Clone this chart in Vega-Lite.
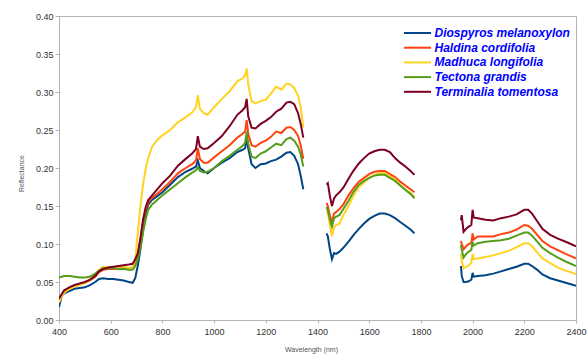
{
  "$schema": "https://vega.github.io/schema/vega-lite/v6.json",
  "width": 517,
  "height": 304,
  "autosize": {"type": "none"},
  "padding": {"left": 59, "top": 16, "right": 12, "bottom": 43},
  "background": "white",
  "config": {
    "font": "Liberation Sans",
    "view": {"stroke": "#b3b3b3", "strokeWidth": 1},
    "axis": {"grid": false, "domainColor": "#b3b3b3", "tickColor": "#b3b3b3", "labelColor": "#333333", "labelFont": "Liberation Sans", "labelFontSize": 9, "titleFont": "Liberation Sans", "titleFontSize": 7, "titleFontWeight": "normal", "titleColor": "#555555"}
  },
  "data": {"values": [
    {"wl":400,"seg":1,"Diospyros melanoxylon":0.017,"Haldina cordifolia":0.026,"Madhuca longifolia":0.023,"Tectona grandis":0.056,"Terminalia tomentosa":0.028},
    {"wl":410,"seg":1,"Diospyros melanoxylon":0.031,"Haldina cordifolia":0.033,"Madhuca longifolia":0.031,"Tectona grandis":0.057,"Terminalia tomentosa":0.034},
    {"wl":420,"seg":1,"Diospyros melanoxylon":0.035,"Haldina cordifolia":0.037,"Madhuca longifolia":0.036,"Tectona grandis":0.058,"Terminalia tomentosa":0.039},
    {"wl":440,"seg":1,"Diospyros melanoxylon":0.038,"Haldina cordifolia":0.042,"Madhuca longifolia":0.041,"Tectona grandis":0.058,"Terminalia tomentosa":0.043},
    {"wl":460,"seg":1,"Diospyros melanoxylon":0.041,"Haldina cordifolia":0.045,"Madhuca longifolia":0.044,"Tectona grandis":0.057,"Terminalia tomentosa":0.046},
    {"wl":480,"seg":1,"Diospyros melanoxylon":0.042,"Haldina cordifolia":0.047,"Madhuca longifolia":0.046,"Tectona grandis":0.056,"Terminalia tomentosa":0.048},
    {"wl":500,"seg":1,"Diospyros melanoxylon":0.043,"Haldina cordifolia":0.049,"Madhuca longifolia":0.049,"Tectona grandis":0.056,"Terminalia tomentosa":0.050},
    {"wl":520,"seg":1,"Diospyros melanoxylon":0.046,"Haldina cordifolia":0.052,"Madhuca longifolia":0.053,"Tectona grandis":0.057,"Terminalia tomentosa":0.053},
    {"wl":540,"seg":1,"Diospyros melanoxylon":0.050,"Haldina cordifolia":0.057,"Madhuca longifolia":0.059,"Tectona grandis":0.061,"Terminalia tomentosa":0.058},
    {"wl":555,"seg":1,"Diospyros melanoxylon":0.054,"Haldina cordifolia":0.063,"Madhuca longifolia":0.066,"Tectona grandis":0.065,"Terminalia tomentosa":0.064},
    {"wl":570,"seg":1,"Diospyros melanoxylon":0.055,"Haldina cordifolia":0.066,"Madhuca longifolia":0.070,"Tectona grandis":0.068,"Terminalia tomentosa":0.067},
    {"wl":590,"seg":1,"Diospyros melanoxylon":0.054,"Haldina cordifolia":0.067,"Madhuca longifolia":0.069,"Tectona grandis":0.068,"Terminalia tomentosa":0.069},
    {"wl":610,"seg":1,"Diospyros melanoxylon":0.054,"Haldina cordifolia":0.067,"Madhuca longifolia":0.069,"Tectona grandis":0.068,"Terminalia tomentosa":0.070},
    {"wl":630,"seg":1,"Diospyros melanoxylon":0.053,"Haldina cordifolia":0.068,"Madhuca longifolia":0.070,"Tectona grandis":0.067,"Terminalia tomentosa":0.071},
    {"wl":650,"seg":1,"Diospyros melanoxylon":0.052,"Haldina cordifolia":0.068,"Madhuca longifolia":0.070,"Tectona grandis":0.067,"Terminalia tomentosa":0.072},
    {"wl":670,"seg":1,"Diospyros melanoxylon":0.050,"Haldina cordifolia":0.068,"Madhuca longifolia":0.068,"Tectona grandis":0.066,"Terminalia tomentosa":0.073},
    {"wl":685,"seg":1,"Diospyros melanoxylon":0.049,"Haldina cordifolia":0.069,"Madhuca longifolia":0.068,"Tectona grandis":0.066,"Terminalia tomentosa":0.074},
    {"wl":695,"seg":1,"Diospyros melanoxylon":0.055,"Haldina cordifolia":0.075,"Madhuca longifolia":0.080,"Tectona grandis":0.071,"Terminalia tomentosa":0.080},
    {"wl":705,"seg":1,"Diospyros melanoxylon":0.072,"Haldina cordifolia":0.085,"Madhuca longifolia":0.115,"Tectona grandis":0.080,"Terminalia tomentosa":0.088},
    {"wl":715,"seg":1,"Diospyros melanoxylon":0.093,"Haldina cordifolia":0.105,"Madhuca longifolia":0.150,"Tectona grandis":0.095,"Terminalia tomentosa":0.108},
    {"wl":725,"seg":1,"Diospyros melanoxylon":0.118,"Haldina cordifolia":0.128,"Madhuca longifolia":0.178,"Tectona grandis":0.115,"Terminalia tomentosa":0.132},
    {"wl":735,"seg":1,"Diospyros melanoxylon":0.138,"Haldina cordifolia":0.145,"Madhuca longifolia":0.198,"Tectona grandis":0.132,"Terminalia tomentosa":0.148},
    {"wl":745,"seg":1,"Diospyros melanoxylon":0.152,"Haldina cordifolia":0.155,"Madhuca longifolia":0.213,"Tectona grandis":0.145,"Terminalia tomentosa":0.158},
    {"wl":760,"seg":1,"Diospyros melanoxylon":0.158,"Haldina cordifolia":0.161,"Madhuca longifolia":0.228,"Tectona grandis":0.152,"Terminalia tomentosa":0.164},
    {"wl":780,"seg":1,"Diospyros melanoxylon":0.163,"Haldina cordifolia":0.166,"Madhuca longifolia":0.237,"Tectona grandis":0.158,"Terminalia tomentosa":0.172},
    {"wl":800,"seg":1,"Diospyros melanoxylon":0.168,"Haldina cordifolia":0.172,"Madhuca longifolia":0.243,"Tectona grandis":0.164,"Terminalia tomentosa":0.180},
    {"wl":830,"seg":1,"Diospyros melanoxylon":0.178,"Haldina cordifolia":0.182,"Madhuca longifolia":0.250,"Tectona grandis":0.172,"Terminalia tomentosa":0.190},
    {"wl":860,"seg":1,"Diospyros melanoxylon":0.188,"Haldina cordifolia":0.193,"Madhuca longifolia":0.260,"Tectona grandis":0.180,"Terminalia tomentosa":0.203},
    {"wl":890,"seg":1,"Diospyros melanoxylon":0.195,"Haldina cordifolia":0.200,"Madhuca longifolia":0.267,"Tectona grandis":0.188,"Terminalia tomentosa":0.212},
    {"wl":915,"seg":1,"Diospyros melanoxylon":0.199,"Haldina cordifolia":0.205,"Madhuca longifolia":0.273,"Tectona grandis":0.194,"Terminalia tomentosa":0.219},
    {"wl":930,"seg":1,"Diospyros melanoxylon":0.202,"Haldina cordifolia":0.210,"Madhuca longifolia":0.280,"Tectona grandis":0.197,"Terminalia tomentosa":0.225},
    {"wl":937,"seg":1,"Diospyros melanoxylon":0.210,"Haldina cordifolia":0.226,"Madhuca longifolia":0.296,"Tectona grandis":0.201,"Terminalia tomentosa":0.242},
    {"wl":945,"seg":1,"Diospyros melanoxylon":0.200,"Haldina cordifolia":0.212,"Madhuca longifolia":0.278,"Tectona grandis":0.196,"Terminalia tomentosa":0.228},
    {"wl":960,"seg":1,"Diospyros melanoxylon":0.196,"Haldina cordifolia":0.207,"Madhuca longifolia":0.272,"Tectona grandis":0.194,"Terminalia tomentosa":0.225},
    {"wl":975,"seg":1,"Diospyros melanoxylon":0.193,"Haldina cordifolia":0.207,"Madhuca longifolia":0.270,"Tectona grandis":0.195,"Terminalia tomentosa":0.226},
    {"wl":1000,"seg":1,"Diospyros melanoxylon":0.200,"Haldina cordifolia":0.214,"Madhuca longifolia":0.280,"Tectona grandis":0.200,"Terminalia tomentosa":0.233},
    {"wl":1030,"seg":1,"Diospyros melanoxylon":0.207,"Haldina cordifolia":0.222,"Madhuca longifolia":0.291,"Tectona grandis":0.209,"Terminalia tomentosa":0.242},
    {"wl":1060,"seg":1,"Diospyros melanoxylon":0.213,"Haldina cordifolia":0.230,"Madhuca longifolia":0.301,"Tectona grandis":0.216,"Terminalia tomentosa":0.255},
    {"wl":1090,"seg":1,"Diospyros melanoxylon":0.221,"Haldina cordifolia":0.240,"Madhuca longifolia":0.314,"Tectona grandis":0.224,"Terminalia tomentosa":0.270},
    {"wl":1110,"seg":1,"Diospyros melanoxylon":0.224,"Haldina cordifolia":0.245,"Madhuca longifolia":0.318,"Tectona grandis":0.229,"Terminalia tomentosa":0.276},
    {"wl":1120,"seg":1,"Diospyros melanoxylon":0.226,"Haldina cordifolia":0.248,"Madhuca longifolia":0.322,"Tectona grandis":0.233,"Terminalia tomentosa":0.280},
    {"wl":1126,"seg":1,"Diospyros melanoxylon":0.240,"Haldina cordifolia":0.263,"Madhuca longifolia":0.331,"Tectona grandis":0.248,"Terminalia tomentosa":0.291},
    {"wl":1132,"seg":1,"Diospyros melanoxylon":0.226,"Haldina cordifolia":0.245,"Madhuca longifolia":0.310,"Tectona grandis":0.232,"Terminalia tomentosa":0.268},
    {"wl":1145,"seg":1,"Diospyros melanoxylon":0.205,"Haldina cordifolia":0.230,"Madhuca longifolia":0.288,"Tectona grandis":0.215,"Terminalia tomentosa":0.253},
    {"wl":1160,"seg":1,"Diospyros melanoxylon":0.200,"Haldina cordifolia":0.228,"Madhuca longifolia":0.285,"Tectona grandis":0.213,"Terminalia tomentosa":0.252},
    {"wl":1180,"seg":1,"Diospyros melanoxylon":0.205,"Haldina cordifolia":0.233,"Madhuca longifolia":0.288,"Tectona grandis":0.219,"Terminalia tomentosa":0.258},
    {"wl":1200,"seg":1,"Diospyros melanoxylon":0.206,"Haldina cordifolia":0.236,"Madhuca longifolia":0.290,"Tectona grandis":0.222,"Terminalia tomentosa":0.262},
    {"wl":1220,"seg":1,"Diospyros melanoxylon":0.209,"Haldina cordifolia":0.241,"Madhuca longifolia":0.298,"Tectona grandis":0.227,"Terminalia tomentosa":0.267},
    {"wl":1240,"seg":1,"Diospyros melanoxylon":0.211,"Haldina cordifolia":0.248,"Madhuca longifolia":0.307,"Tectona grandis":0.232,"Terminalia tomentosa":0.274},
    {"wl":1260,"seg":1,"Diospyros melanoxylon":0.215,"Haldina cordifolia":0.246,"Madhuca longifolia":0.303,"Tectona grandis":0.230,"Terminalia tomentosa":0.278},
    {"wl":1280,"seg":1,"Diospyros melanoxylon":0.220,"Haldina cordifolia":0.253,"Madhuca longifolia":0.311,"Tectona grandis":0.238,"Terminalia tomentosa":0.286},
    {"wl":1295,"seg":1,"Diospyros melanoxylon":0.221,"Haldina cordifolia":0.254,"Madhuca longifolia":0.310,"Tectona grandis":0.240,"Terminalia tomentosa":0.287},
    {"wl":1310,"seg":1,"Diospyros melanoxylon":0.216,"Haldina cordifolia":0.250,"Madhuca longifolia":0.305,"Tectona grandis":0.236,"Terminalia tomentosa":0.284},
    {"wl":1325,"seg":1,"Diospyros melanoxylon":0.205,"Haldina cordifolia":0.242,"Madhuca longifolia":0.295,"Tectona grandis":0.228,"Terminalia tomentosa":0.272},
    {"wl":1335,"seg":1,"Diospyros melanoxylon":0.190,"Haldina cordifolia":0.230,"Madhuca longifolia":0.280,"Tectona grandis":0.218,"Terminalia tomentosa":0.258},
    {"wl":1345,"seg":1,"Diospyros melanoxylon":0.172,"Haldina cordifolia":0.212,"Madhuca longifolia":0.253,"Tectona grandis":0.202,"Terminalia tomentosa":0.240},
    {"wl":1435,"seg":2,"Diospyros melanoxylon":0.114,"Haldina cordifolia":0.154,"Madhuca longifolia":0.147,"Tectona grandis":0.149,"Terminalia tomentosa":0.178},
    {"wl":1440,"seg":2,"Diospyros melanoxylon":0.110,"Haldina cordifolia":0.150,"Madhuca longifolia":0.140,"Tectona grandis":0.145,"Terminalia tomentosa":0.180},
    {"wl":1448,"seg":2,"Diospyros melanoxylon":0.093,"Haldina cordifolia":0.137,"Madhuca longifolia":0.125,"Tectona grandis":0.132,"Terminalia tomentosa":0.163},
    {"wl":1456,"seg":2,"Diospyros melanoxylon":0.080,"Haldina cordifolia":0.129,"Madhuca longifolia":0.110,"Tectona grandis":0.123,"Terminalia tomentosa":0.150},
    {"wl":1464,"seg":2,"Diospyros melanoxylon":0.088,"Haldina cordifolia":0.140,"Madhuca longifolia":0.122,"Tectona grandis":0.134,"Terminalia tomentosa":0.160},
    {"wl":1472,"seg":2,"Diospyros melanoxylon":0.087,"Haldina cordifolia":0.142,"Madhuca longifolia":0.125,"Tectona grandis":0.136,"Terminalia tomentosa":0.164},
    {"wl":1485,"seg":2,"Diospyros melanoxylon":0.090,"Haldina cordifolia":0.146,"Madhuca longifolia":0.127,"Tectona grandis":0.138,"Terminalia tomentosa":0.168},
    {"wl":1500,"seg":2,"Diospyros melanoxylon":0.095,"Haldina cordifolia":0.152,"Madhuca longifolia":0.138,"Tectona grandis":0.146,"Terminalia tomentosa":0.174},
    {"wl":1520,"seg":2,"Diospyros melanoxylon":0.103,"Haldina cordifolia":0.164,"Madhuca longifolia":0.150,"Tectona grandis":0.157,"Terminalia tomentosa":0.186},
    {"wl":1540,"seg":2,"Diospyros melanoxylon":0.112,"Haldina cordifolia":0.174,"Madhuca longifolia":0.164,"Tectona grandis":0.169,"Terminalia tomentosa":0.197},
    {"wl":1560,"seg":2,"Diospyros melanoxylon":0.120,"Haldina cordifolia":0.182,"Madhuca longifolia":0.175,"Tectona grandis":0.178,"Terminalia tomentosa":0.206},
    {"wl":1580,"seg":2,"Diospyros melanoxylon":0.127,"Haldina cordifolia":0.187,"Madhuca longifolia":0.181,"Tectona grandis":0.183,"Terminalia tomentosa":0.213},
    {"wl":1600,"seg":2,"Diospyros melanoxylon":0.133,"Haldina cordifolia":0.192,"Madhuca longifolia":0.187,"Tectona grandis":0.187,"Terminalia tomentosa":0.219},
    {"wl":1620,"seg":2,"Diospyros melanoxylon":0.137,"Haldina cordifolia":0.195,"Madhuca longifolia":0.191,"Tectona grandis":0.190,"Terminalia tomentosa":0.222},
    {"wl":1640,"seg":2,"Diospyros melanoxylon":0.140,"Haldina cordifolia":0.196,"Madhuca longifolia":0.193,"Tectona grandis":0.191,"Terminalia tomentosa":0.224},
    {"wl":1660,"seg":2,"Diospyros melanoxylon":0.140,"Haldina cordifolia":0.196,"Madhuca longifolia":0.193,"Tectona grandis":0.191,"Terminalia tomentosa":0.224},
    {"wl":1680,"seg":2,"Diospyros melanoxylon":0.138,"Haldina cordifolia":0.192,"Madhuca longifolia":0.189,"Tectona grandis":0.187,"Terminalia tomentosa":0.221},
    {"wl":1700,"seg":2,"Diospyros melanoxylon":0.134,"Haldina cordifolia":0.188,"Madhuca longifolia":0.185,"Tectona grandis":0.183,"Terminalia tomentosa":0.213},
    {"wl":1720,"seg":2,"Diospyros melanoxylon":0.129,"Haldina cordifolia":0.182,"Madhuca longifolia":0.178,"Tectona grandis":0.177,"Terminalia tomentosa":0.207},
    {"wl":1740,"seg":2,"Diospyros melanoxylon":0.124,"Haldina cordifolia":0.177,"Madhuca longifolia":0.172,"Tectona grandis":0.171,"Terminalia tomentosa":0.202},
    {"wl":1760,"seg":2,"Diospyros melanoxylon":0.119,"Haldina cordifolia":0.172,"Madhuca longifolia":0.167,"Tectona grandis":0.166,"Terminalia tomentosa":0.196},
    {"wl":1775,"seg":2,"Diospyros melanoxylon":0.114,"Haldina cordifolia":0.168,"Madhuca longifolia":0.162,"Tectona grandis":0.160,"Terminalia tomentosa":0.191},
    {"wl":1955,"seg":3,"Diospyros melanoxylon":0.071,"Haldina cordifolia":0.104,"Madhuca longifolia":0.087,"Tectona grandis":0.099,"Terminalia tomentosa":0.131},
    {"wl":1958,"seg":3,"Diospyros melanoxylon":0.058,"Haldina cordifolia":0.100,"Madhuca longifolia":0.078,"Tectona grandis":0.092,"Terminalia tomentosa":0.138},
    {"wl":1965,"seg":3,"Diospyros melanoxylon":0.050,"Haldina cordifolia":0.093,"Madhuca longifolia":0.068,"Tectona grandis":0.082,"Terminalia tomentosa":0.116},
    {"wl":1975,"seg":3,"Diospyros melanoxylon":0.050,"Haldina cordifolia":0.097,"Madhuca longifolia":0.070,"Tectona grandis":0.087,"Terminalia tomentosa":0.120},
    {"wl":1985,"seg":3,"Diospyros melanoxylon":0.051,"Haldina cordifolia":0.100,"Madhuca longifolia":0.072,"Tectona grandis":0.090,"Terminalia tomentosa":0.123},
    {"wl":1995,"seg":3,"Diospyros melanoxylon":0.053,"Haldina cordifolia":0.101,"Madhuca longifolia":0.075,"Tectona grandis":0.092,"Terminalia tomentosa":0.125},
    {"wl":2000,"seg":3,"Diospyros melanoxylon":0.062,"Haldina cordifolia":0.114,"Madhuca longifolia":0.087,"Tectona grandis":0.103,"Terminalia tomentosa":0.145},
    {"wl":2004,"seg":3,"Diospyros melanoxylon":0.057,"Haldina cordifolia":0.106,"Madhuca longifolia":0.080,"Tectona grandis":0.098,"Terminalia tomentosa":0.135},
    {"wl":2020,"seg":3,"Diospyros melanoxylon":0.058,"Haldina cordifolia":0.110,"Madhuca longifolia":0.081,"Tectona grandis":0.101,"Terminalia tomentosa":0.134},
    {"wl":2050,"seg":3,"Diospyros melanoxylon":0.059,"Haldina cordifolia":0.110,"Madhuca longifolia":0.083,"Tectona grandis":0.103,"Terminalia tomentosa":0.132},
    {"wl":2080,"seg":3,"Diospyros melanoxylon":0.061,"Haldina cordifolia":0.110,"Madhuca longifolia":0.085,"Tectona grandis":0.104,"Terminalia tomentosa":0.131},
    {"wl":2110,"seg":3,"Diospyros melanoxylon":0.064,"Haldina cordifolia":0.113,"Madhuca longifolia":0.088,"Tectona grandis":0.105,"Terminalia tomentosa":0.134},
    {"wl":2140,"seg":3,"Diospyros melanoxylon":0.067,"Haldina cordifolia":0.115,"Madhuca longifolia":0.091,"Tectona grandis":0.107,"Terminalia tomentosa":0.136},
    {"wl":2170,"seg":3,"Diospyros melanoxylon":0.070,"Haldina cordifolia":0.119,"Madhuca longifolia":0.096,"Tectona grandis":0.111,"Terminalia tomentosa":0.139},
    {"wl":2200,"seg":3,"Diospyros melanoxylon":0.074,"Haldina cordifolia":0.125,"Madhuca longifolia":0.101,"Tectona grandis":0.115,"Terminalia tomentosa":0.145},
    {"wl":2215,"seg":3,"Diospyros melanoxylon":0.074,"Haldina cordifolia":0.124,"Madhuca longifolia":0.101,"Tectona grandis":0.115,"Terminalia tomentosa":0.145},
    {"wl":2230,"seg":3,"Diospyros melanoxylon":0.071,"Haldina cordifolia":0.120,"Madhuca longifolia":0.097,"Tectona grandis":0.111,"Terminalia tomentosa":0.140},
    {"wl":2250,"seg":3,"Diospyros melanoxylon":0.066,"Haldina cordifolia":0.112,"Madhuca longifolia":0.089,"Tectona grandis":0.103,"Terminalia tomentosa":0.130},
    {"wl":2270,"seg":3,"Diospyros melanoxylon":0.060,"Haldina cordifolia":0.104,"Madhuca longifolia":0.081,"Tectona grandis":0.095,"Terminalia tomentosa":0.120},
    {"wl":2300,"seg":3,"Diospyros melanoxylon":0.055,"Haldina cordifolia":0.097,"Madhuca longifolia":0.075,"Tectona grandis":0.088,"Terminalia tomentosa":0.112},
    {"wl":2330,"seg":3,"Diospyros melanoxylon":0.052,"Haldina cordifolia":0.092,"Madhuca longifolia":0.069,"Tectona grandis":0.082,"Terminalia tomentosa":0.107},
    {"wl":2360,"seg":3,"Diospyros melanoxylon":0.049,"Haldina cordifolia":0.087,"Madhuca longifolia":0.065,"Tectona grandis":0.077,"Terminalia tomentosa":0.103},
    {"wl":2380,"seg":3,"Diospyros melanoxylon":0.047,"Haldina cordifolia":0.084,"Madhuca longifolia":0.063,"Tectona grandis":0.074,"Terminalia tomentosa":0.100},
    {"wl":2400,"seg":3,"Diospyros melanoxylon":0.045,"Haldina cordifolia":0.081,"Madhuca longifolia":0.060,"Tectona grandis":0.071,"Terminalia tomentosa":0.097}
  ]},
  "transform": [
    {"fold": ["Diospyros melanoxylon", "Haldina cordifolia", "Madhuca longifolia", "Tectona grandis", "Terminalia tomentosa"], "as": ["species", "reflectance"]}
  ],
  "mark": {"type": "line", "strokeWidth": 2, "clip": true},
  "encoding": {
    "x": {"field": "wl", "type": "quantitative", "scale": {"domain": [400, 2400], "nice": false, "zero": false},
      "axis": {"title": "Wavelength (nm)", "values": [400, 600, 800, 1000, 1200, 1400, 1600, 1800, 2000, 2200, 2400], "format": "d", "tickSize": 3, "labelPadding": 4, "titlePadding": 9, "titleX": 252, "labelFlush": false}},
    "y": {"field": "reflectance", "type": "quantitative", "scale": {"domain": [0, 0.4], "nice": false},
      "axis": {"title": "Reflectance", "values": [0, 0.05, 0.1, 0.15, 0.2, 0.25, 0.3, 0.35, 0.4], "format": ".2f", "tickSize": 4, "labelPadding": 2, "titlePadding": 11, "titleY": 157, "labelFlush": false}},
    "color": {"field": "species", "type": "nominal",
      "scale": {"domain": ["Diospyros melanoxylon", "Haldina cordifolia", "Madhuca longifolia", "Tectona grandis", "Terminalia tomentosa"], "range": ["#004586", "#ff420e", "#ffd320", "#579d1c", "#7e0021"]},
      "legend": {"title": null, "orient": "none", "legendX": 352.5, "legendY": 11, "padding": 0, "symbolType": "M-2.7,0H2.7", "symbolSize": 100, "symbolStrokeWidth": 2, "labelOffset": 11, "rowPadding": 2.7, "labelFont": "Liberation Sans", "labelFontSize": 12, "labelFontStyle": "italic", "labelFontWeight": "bold", "labelColor": "#0000ff", "labelLimit": 300}},
    "detail": {"field": "seg", "type": "nominal"}
  }
}
